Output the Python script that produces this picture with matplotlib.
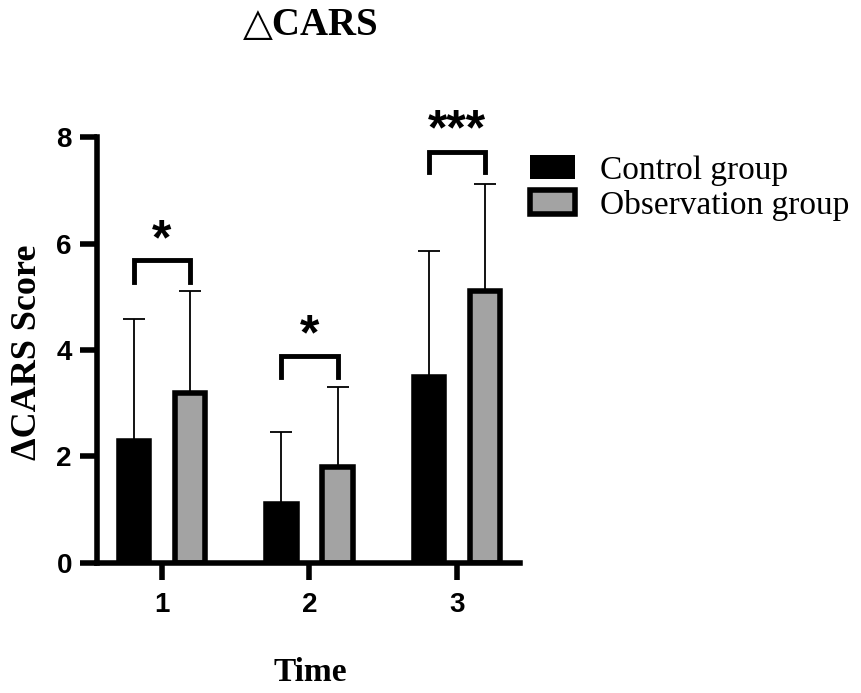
import numpy as np
import matplotlib.pyplot as plt
from matplotlib.patches import Patch

# -----------------------------
# Data
# -----------------------------
times = ["1", "2", "3"]
control_mean = [2.3, 1.1, 3.5]
control_sd = [2.28, 1.36, 2.36]
observation_mean = [3.2, 1.8, 5.1]
observation_sd = [1.9, 1.51, 2.02]
sig_labels = ["*", "*", "***"]
bracket_top = [5.69, 3.89, 7.72]
bracket_leg = [5.28, 3.50, 7.35]
star_y = [6.05, 4.26, 8.11]

# -----------------------------
# Figure
# -----------------------------
fig = plt.figure(figsize=(8.62, 6.93), dpi=100)
ax = fig.add_axes([0.1125, 0.1876, 0.4907, 0.6147])

x = np.arange(1, len(times) + 1)
off = 0.19
width = 0.205
gray = "#a3a3a3"

ax.bar(x - off, control_mean, width, color="black", edgecolor="black", linewidth=4, zorder=2)
ax.bar(x + off, observation_mean, width, color=gray, edgecolor="black", linewidth=4, zorder=2)

ax.errorbar(x - off, control_mean, yerr=[np.zeros(3), control_sd], fmt="none",
            ecolor="black", elinewidth=1.3, capsize=8, capthick=1.3, zorder=1)
ax.errorbar(x + off, observation_mean, yerr=[np.zeros(3), observation_sd], fmt="none",
            ecolor="black", elinewidth=1.3, capsize=8, capthick=1.3, zorder=1)

# significance brackets
for i in range(len(times)):
    xl, xr = x[i] - off, x[i] + off
    ax.plot([xl, xl, xr, xr], [bracket_leg[i], bracket_top[i], bracket_top[i], bracket_leg[i]],
            color="black", lw=3.5, solid_joinstyle="miter", clip_on=False)
    ax.text(x[i], star_y[i], sig_labels[i], ha="center", va="center", fontsize=36,
            fontweight="bold", family="Liberation Sans", clip_on=False)

ax.set_xlim(0.559, 3.427)
ax.set_ylim(0, 8)
ax.set_xticks(x)
ax.set_xticklabels(times)
ax.set_yticks([0, 2, 4, 6, 8])
for s in ["top", "right"]:
    ax.spines[s].set_visible(False)
for s in ["left", "bottom"]:
    ax.spines[s].set_linewidth(4)
ax.tick_params(axis="both", length=12, width=4, labelsize=20)
ax.tick_params(axis="x", pad=9)
ax.tick_params(axis="y", pad=6)
for lab in ax.get_xticklabels() + ax.get_yticklabels():
    lab.set_fontweight("bold")
    lab.set_family("Liberation Sans")

# titles
fig.text(0.36, 0.963, "\u25b3CARS", ha="center", va="center", fontsize=28,
         fontweight="bold", family=["Liberation Serif", "DejaVu Sans"])
fig.text(0.032, 0.492, "\u0394CARS Score", ha="center", va="center", rotation=90,
         fontsize=26, fontweight="bold", family="Liberation Serif")
fig.text(0.36, 0.029, "Time", ha="center", va="center", fontsize=24,
         fontweight="bold", family="Liberation Serif")

# legend
handles = [Patch(facecolor="black", edgecolor="black", linewidth=0),
           Patch(facecolor=gray, edgecolor="black", linewidth=4)]
fig.legend(handles, ["Control group", "Observation group"], loc="upper left",
           bbox_to_anchor=(0.615, 0.776), frameon=False, borderpad=0, borderaxespad=0,
           handlelength=1.35, handleheight=0.7, handletextpad=0.75, labelspacing=0.12,
           prop={"family": "Liberation Serif", "size": 24})

fig.savefig("out.png", dpi=100)
